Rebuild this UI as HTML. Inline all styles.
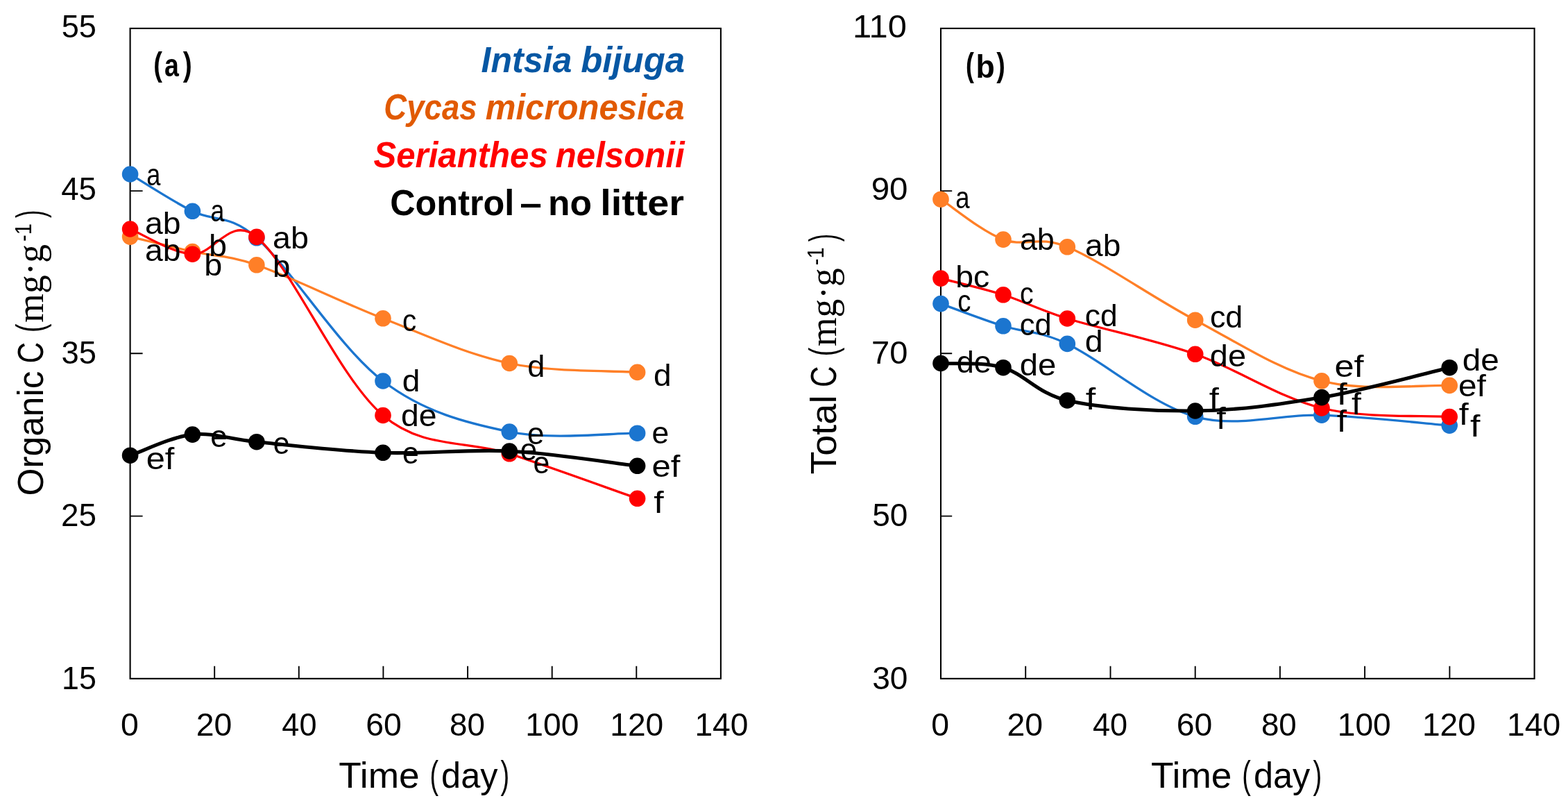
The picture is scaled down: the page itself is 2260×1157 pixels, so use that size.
<!DOCTYPE html>
<html lang="en"><head><meta charset="utf-8"><title>Organic C and total C over time</title>
<style>html,body{margin:0;padding:0;background:#fff}svg{display:block}</style></head>
<body>
<svg width="2260" height="1157" viewBox="0 0 2260 1157" font-family="Liberation Sans, sans-serif" fill="#000">
<rect width="2260" height="1157" fill="#fff"/>
<g id="panel-a">
<rect x="187.6" y="40.9" width="851.3" height="936.9" fill="none" stroke="#000" stroke-width="2.1"/>
<path d="M309.2 977.8V959.8M430.8 977.8V959.8M552.4 977.8V959.8M674.1 977.8V959.8M795.7 977.8V959.8M917.3 977.8V959.8M187.6 275.1H205.6M187.6 509.3H205.6M187.6 743.6H205.6" stroke="#000" stroke-width="1.9" fill="none"/>
<g class="series" stroke="#1B75CF" fill="#1B75CF">
<path d="M187.6 251.0C205.6 261.7 246.6 288.8 277.4 304.3C307.9 319.7 330.4 307.6 369.9 342.8C420.7 388.1 488.3 500.2 552.0 549.0C610.6 593.9 672.2 609.4 734.3 622.1C795.5 634.6 881.7 623.8 918.6 624.2" fill="none" stroke-width="3.3" stroke-linecap="round" stroke-linejoin="round"/>
<g stroke="none"><circle cx="187.6" cy="251.0" r="11.8"/><circle cx="277.4" cy="304.3" r="11.8"/><circle cx="369.9" cy="342.8" r="11.8"/><circle cx="552.0" cy="549.0" r="11.8"/><circle cx="734.3" cy="622.1" r="11.8"/><circle cx="918.6" cy="624.2" r="11.8"/></g>
</g>
<g class="series" stroke="#FF7F27" fill="#FF7F27">
<path d="M187.6 341.1C205.6 345.4 246.8 355.7 277.4 362.5C308.1 369.4 328.5 367.3 369.9 381.8C419.7 399.3 490.5 434.9 552.0 458.8C613.1 482.6 672.3 510.4 734.3 523.5C795.6 536.5 881.7 533.8 918.6 536.4" fill="none" stroke-width="3.3" stroke-linecap="round" stroke-linejoin="round"/>
<g stroke="none"><circle cx="187.6" cy="341.1" r="11.8"/><circle cx="277.4" cy="362.5" r="11.8"/><circle cx="369.9" cy="381.8" r="11.8"/><circle cx="552.0" cy="458.8" r="11.8"/><circle cx="734.3" cy="523.5" r="11.8"/><circle cx="918.6" cy="536.4" r="11.8"/></g>
</g>
<g class="series" stroke="#FF0000" fill="#FF0000">
<path d="M187.6 330.0C205.6 337.2 246.7 364.3 277.4 366.2C308.0 368.1 331.7 309.1 369.9 341.4C421.3 384.9 487.2 543.0 552.0 598.5C609.1 647.5 672.8 633.7 734.3 653.8C796.1 674.0 881.7 705.4 918.6 718.3" fill="none" stroke-width="3.3" stroke-linecap="round" stroke-linejoin="round"/>
<g stroke="none"><circle cx="187.6" cy="330.0" r="11.8"/><circle cx="277.4" cy="366.2" r="11.8"/><circle cx="369.9" cy="341.4" r="11.8"/><circle cx="552.0" cy="598.5" r="11.8"/><circle cx="734.3" cy="653.8" r="11.8"/><circle cx="918.6" cy="718.3" r="11.8"/></g>
</g>
<g class="series" stroke="#000" fill="#000">
<path d="M187.6 656.2C205.6 650.2 246.7 629.4 277.4 626.1C308.0 622.8 328.0 632.7 369.9 636.7C419.4 641.4 490.7 650.1 552.0 652.3C613.3 654.5 672.8 646.8 734.3 650.0C796.1 653.2 881.7 667.0 918.6 671.3" fill="none" stroke-width="5.1" stroke-linecap="round" stroke-linejoin="round"/>
<g stroke="none"><circle cx="187.6" cy="656.2" r="11.8"/><circle cx="277.4" cy="626.1" r="11.8"/><circle cx="369.9" cy="636.7" r="11.8"/><circle cx="552.0" cy="652.3" r="11.8"/><circle cx="734.3" cy="650.0" r="11.8"/><circle cx="918.6" cy="671.3" r="11.8"/></g>
</g>
</g>
<g id="panel-b">
<rect x="1356.0" y="40.9" width="855.6" height="936.9" fill="none" stroke="#000" stroke-width="2.1"/>
<path d="M1478.2 977.8V959.8M1600.5 977.8V959.8M1722.7 977.8V959.8M1844.9 977.8V959.8M1967.1 977.8V959.8M2089.4 977.8V959.8M1356.0 275.1H1372.2M1356.0 509.3H1372.2M1356.0 743.6H1372.2" stroke="#000" stroke-width="1.9" fill="none"/>
<g class="series" stroke="#1B75CF" fill="#1B75CF">
<path d="M1356.0 437.6C1374.0 444.0 1415.3 460.1 1446.0 469.8C1476.7 479.5 1497.0 475.9 1538.3 495.4C1588.7 519.2 1659.9 582.7 1722.7 600.3C1783.2 617.3 1843.5 596.1 1905.0 598.2C1966.7 600.4 2052.4 610.1 2089.2 613.1" fill="none" stroke-width="3.3" stroke-linecap="round" stroke-linejoin="round"/>
<g stroke="none"><circle cx="1356.0" cy="437.6" r="11.8"/><circle cx="1446.0" cy="469.8" r="11.8"/><circle cx="1538.3" cy="495.4" r="11.8"/><circle cx="1722.7" cy="600.3" r="11.8"/><circle cx="1905.0" cy="598.2" r="11.8"/><circle cx="2089.2" cy="613.1" r="11.8"/></g>
</g>
<g class="series" stroke="#FF7F27" fill="#FF7F27">
<path d="M1356.0 287.2C1374.0 298.8 1414.8 333.4 1446.0 345.1C1476.1 356.4 1497.2 338.6 1538.3 355.8C1588.8 377.0 1660.7 428.5 1722.7 461.2C1784.0 493.5 1842.7 532.8 1905.0 548.8C1965.9 564.5 2052.4 554.1 2089.2 555.4" fill="none" stroke-width="3.3" stroke-linecap="round" stroke-linejoin="round"/>
<g stroke="none"><circle cx="1356.0" cy="287.2" r="11.8"/><circle cx="1446.0" cy="345.1" r="11.8"/><circle cx="1538.3" cy="355.8" r="11.8"/><circle cx="1722.7" cy="461.2" r="11.8"/><circle cx="1905.0" cy="548.8" r="11.8"/><circle cx="2089.2" cy="555.4" r="11.8"/></g>
</g>
<g class="series" stroke="#FF0000" fill="#FF0000">
<path d="M1356.0 401.1C1374.0 405.8 1415.6 415.1 1446.0 424.8C1476.9 434.6 1496.1 445.9 1538.3 459.0C1588.2 474.4 1661.3 488.7 1722.7 510.3C1784.6 532.1 1842.8 572.7 1905.0 588.0C1966.1 603.1 2052.4 598.1 2089.2 600.6" fill="none" stroke-width="3.3" stroke-linecap="round" stroke-linejoin="round"/>
<g stroke="none"><circle cx="1356.0" cy="401.1" r="11.8"/><circle cx="1446.0" cy="424.8" r="11.8"/><circle cx="1538.3" cy="459.0" r="11.8"/><circle cx="1722.7" cy="510.3" r="11.8"/><circle cx="1905.0" cy="588.0" r="11.8"/><circle cx="2089.2" cy="600.6" r="11.8"/></g>
</g>
<g class="series" stroke="#000" fill="#000">
<path d="M1356.0 523.5C1374.0 524.7 1415.9 520.9 1446.0 529.7C1477.2 538.9 1495.5 567.4 1538.3 577.0C1587.8 588.1 1661.0 592.7 1722.7 592.0C1784.3 591.3 1843.6 583.0 1905.0 572.6C1966.9 562.1 2052.4 538.3 2089.2 529.7" fill="none" stroke-width="5.1" stroke-linecap="round" stroke-linejoin="round"/>
<g stroke="none"><circle cx="1356.0" cy="523.5" r="11.8"/><circle cx="1446.0" cy="529.7" r="11.8"/><circle cx="1538.3" cy="577.0" r="11.8"/><circle cx="1722.7" cy="592.0" r="11.8"/><circle cx="1905.0" cy="572.6" r="11.8"/><circle cx="2089.2" cy="529.7" r="11.8"/></g>
</g>
</g>
<g id="labels">
<text font-size="46.0"><tspan x="88.69" y="54.30" textLength="50.24" lengthAdjust="spacingAndGlyphs">55</tspan></text>
<text font-size="46.0"><tspan x="88.19" y="288.10" textLength="50.76" lengthAdjust="spacingAndGlyphs">45</tspan></text>
<text font-size="46.0"><tspan x="88.59" y="523.90" textLength="50.35" lengthAdjust="spacingAndGlyphs">35</tspan></text>
<text font-size="46.0"><tspan x="87.95" y="757.70" textLength="51.01" lengthAdjust="spacingAndGlyphs">25</tspan></text>
<text font-size="46.0"><tspan x="89.10" y="993.40" textLength="49.81" lengthAdjust="spacingAndGlyphs">15</tspan></text>
<text font-size="46.0"><tspan x="1229.05" y="54.30" textLength="77.76" lengthAdjust="spacingAndGlyphs">110</tspan></text>
<text font-size="46.0"><tspan x="1255.67" y="288.10" textLength="52.81" lengthAdjust="spacingAndGlyphs">90</tspan></text>
<text font-size="46.0"><tspan x="1256.09" y="523.90" textLength="52.38" lengthAdjust="spacingAndGlyphs">70</tspan></text>
<text font-size="46.0"><tspan x="1257.16" y="757.70" textLength="51.29" lengthAdjust="spacingAndGlyphs">50</tspan></text>
<text font-size="46.0"><tspan x="1257.16" y="993.40" textLength="51.29" lengthAdjust="spacingAndGlyphs">30</tspan></text>
<text font-size="46.0"><tspan x="174.05" y="1060.10" textLength="25.81" lengthAdjust="spacingAndGlyphs">0</tspan></text>
<text font-size="46.0"><tspan x="282.67" y="1060.10" textLength="51.63" lengthAdjust="spacingAndGlyphs">20</tspan></text>
<text font-size="46.0"><tspan x="406.35" y="1060.10" textLength="50.13" lengthAdjust="spacingAndGlyphs">40</tspan></text>
<text font-size="46.0"><tspan x="527.17" y="1060.10" textLength="51.63" lengthAdjust="spacingAndGlyphs">60</tspan></text>
<text font-size="46.0"><tspan x="648.02" y="1060.10" textLength="50.87" lengthAdjust="spacingAndGlyphs">80</tspan></text>
<text font-size="46.0"><tspan x="757.31" y="1060.10" textLength="77.04" lengthAdjust="spacingAndGlyphs">100</tspan></text>
<text font-size="46.0"><tspan x="879.21" y="1060.10" textLength="77.04" lengthAdjust="spacingAndGlyphs">120</tspan></text>
<text font-size="46.0"><tspan x="1001.41" y="1060.10" textLength="77.04" lengthAdjust="spacingAndGlyphs">140</tspan></text>
<text font-size="46.0"><tspan x="1342.35" y="1060.10" textLength="25.81" lengthAdjust="spacingAndGlyphs">0</tspan></text>
<text font-size="46.0"><tspan x="1451.57" y="1060.10" textLength="51.63" lengthAdjust="spacingAndGlyphs">20</tspan></text>
<text font-size="46.0"><tspan x="1574.95" y="1060.10" textLength="50.13" lengthAdjust="spacingAndGlyphs">40</tspan></text>
<text font-size="46.0"><tspan x="1695.77" y="1060.10" textLength="51.63" lengthAdjust="spacingAndGlyphs">60</tspan></text>
<text font-size="46.0"><tspan x="1817.92" y="1060.10" textLength="50.87" lengthAdjust="spacingAndGlyphs">80</tspan></text>
<text font-size="46.0"><tspan x="1927.71" y="1060.10" textLength="77.04" lengthAdjust="spacingAndGlyphs">100</tspan></text>
<text font-size="46.0"><tspan x="2049.91" y="1060.10" textLength="77.04" lengthAdjust="spacingAndGlyphs">120</tspan></text>
<text font-size="46.0"><tspan x="2172.11" y="1060.10" textLength="77.04" lengthAdjust="spacingAndGlyphs">140</tspan></text>
<text font-size="52.5"><tspan x="488.27" y="1135.30" textLength="116.39" lengthAdjust="spacingAndGlyphs">Time</tspan> <tspan x="619.53" y="1135.30" textLength="12.55" lengthAdjust="spacingAndGlyphs" font-size="56.2">(</tspan><tspan x="636.12" y="1135.30" textLength="81.38" lengthAdjust="spacingAndGlyphs">day</tspan><tspan x="721.60" y="1135.30" textLength="12.67" lengthAdjust="spacingAndGlyphs" font-size="56.2">)</tspan></text>
<text font-size="52.5"><tspan x="1659.07" y="1135.30" textLength="116.39" lengthAdjust="spacingAndGlyphs">Time</tspan> <tspan x="1790.33" y="1135.30" textLength="12.55" lengthAdjust="spacingAndGlyphs" font-size="56.2">(</tspan><tspan x="1806.92" y="1135.30" textLength="81.38" lengthAdjust="spacingAndGlyphs">day</tspan><tspan x="1892.40" y="1135.30" textLength="12.67" lengthAdjust="spacingAndGlyphs" font-size="56.2">)</tspan></text>
<text font-size="52.5" font-weight="bold" font-style="italic" fill="#0657A3"><tspan x="693.52" y="103.70" textLength="130.73" lengthAdjust="spacingAndGlyphs">Intsia</tspan> <tspan x="837.20" y="103.70" textLength="149.86" lengthAdjust="spacingAndGlyphs">bijuga</tspan></text>
<text font-size="52.5" font-weight="bold" font-style="italic" fill="#E15A02"><tspan x="553.26" y="172.00" textLength="134.37" lengthAdjust="spacingAndGlyphs">Cycas</tspan> <tspan x="699.73" y="172.00" textLength="286.79" lengthAdjust="spacingAndGlyphs">micronesica</tspan></text>
<text font-size="52.5" font-weight="bold" font-style="italic" fill="#FF0000"><tspan x="538.50" y="240.60" textLength="251.22" lengthAdjust="spacingAndGlyphs">Serianthes</tspan> <tspan x="800.83" y="240.60" textLength="185.73" lengthAdjust="spacingAndGlyphs">nelsonii</tspan></text>
<text font-size="52.5" font-weight="bold"><tspan x="562.23" y="309.60" textLength="179.05" lengthAdjust="spacingAndGlyphs">Control</tspan> <tspan x="749.31" y="309.60" textLength="31.60" lengthAdjust="spacingAndGlyphs">–</tspan> <tspan x="789.88" y="309.60" textLength="63.01" lengthAdjust="spacingAndGlyphs">no</tspan> <tspan x="865.21" y="309.60" textLength="120.88" lengthAdjust="spacingAndGlyphs">litter</tspan></text>
<text font-size="46.0" font-weight="bold"><tspan x="221.32" y="108.70" textLength="12.68" lengthAdjust="spacingAndGlyphs" font-size="47.4">(</tspan><tspan x="237.11" y="110.40" textLength="20.85" lengthAdjust="spacingAndGlyphs">a</tspan><tspan x="263.70" y="108.70" textLength="13.01" lengthAdjust="spacingAndGlyphs" font-size="47.4">)</tspan></text>
<text font-size="46.0" font-weight="bold"><tspan x="1392.03" y="110.30" textLength="11.89" lengthAdjust="spacingAndGlyphs" font-size="47.4">(</tspan><tspan x="1406.51" y="112.00" textLength="27.25" lengthAdjust="spacingAndGlyphs">b</tspan><tspan x="1436.20" y="110.30" textLength="12.56" lengthAdjust="spacingAndGlyphs" font-size="47.4">)</tspan></text>
<text font-size="43.8"><tspan x="211.37" y="266.50" textLength="20.10" lengthAdjust="spacingAndGlyphs">a</tspan></text>
<text font-size="43.8"><tspan x="303.58" y="319.40" textLength="19.89" lengthAdjust="spacingAndGlyphs">a</tspan></text>
<text font-size="43.8"><tspan x="208.95" y="337.00" textLength="51.52" lengthAdjust="spacingAndGlyphs">ab</tspan></text>
<text font-size="43.8"><tspan x="208.95" y="376.00" textLength="51.52" lengthAdjust="spacingAndGlyphs">ab</tspan></text>
<text font-size="43.8"><tspan x="301.08" y="369.00" textLength="26.02" lengthAdjust="spacingAndGlyphs">b</tspan></text>
<text font-size="43.8"><tspan x="294.28" y="397.20" textLength="26.02" lengthAdjust="spacingAndGlyphs">b</tspan></text>
<text font-size="43.8"><tspan x="393.04" y="358.30" textLength="51.85" lengthAdjust="spacingAndGlyphs">ab</tspan></text>
<text font-size="43.8"><tspan x="393.04" y="398.90" textLength="25.41" lengthAdjust="spacingAndGlyphs">b</tspan></text>
<text font-size="43.8"><tspan x="580.04" y="476.50" textLength="20.19" lengthAdjust="spacingAndGlyphs">c</tspan></text>
<text font-size="43.8"><tspan x="579.86" y="563.90" textLength="25.63" lengthAdjust="spacingAndGlyphs">d</tspan></text>
<text font-size="43.8"><tspan x="577.95" y="614.00" textLength="51.52" lengthAdjust="spacingAndGlyphs">de</tspan></text>
<text font-size="43.8"><tspan x="760.19" y="542.70" textLength="25.15" lengthAdjust="spacingAndGlyphs">d</tspan></text>
<text font-size="43.8"><tspan x="941.96" y="555.90" textLength="25.63" lengthAdjust="spacingAndGlyphs">d</tspan></text>
<text font-size="43.8"><tspan x="759.93" y="639.50" textLength="24.46" lengthAdjust="spacingAndGlyphs">e</tspan></text>
<text font-size="43.8"><tspan x="939.61" y="639.20" textLength="24.69" lengthAdjust="spacingAndGlyphs">e</tspan></text>
<text font-size="43.8"><tspan x="303.23" y="643.80" textLength="24.46" lengthAdjust="spacingAndGlyphs">e</tspan></text>
<text font-size="43.8"><tspan x="393.66" y="654.40" textLength="23.88" lengthAdjust="spacingAndGlyphs">e</tspan></text>
<text font-size="43.8"><tspan x="579.96" y="667.60" textLength="23.77" lengthAdjust="spacingAndGlyphs">e</tspan></text>
<text font-size="43.8"><tspan x="749.83" y="662.60" textLength="24.34" lengthAdjust="spacingAndGlyphs">e</tspan></text>
<text font-size="43.8"><tspan x="768.56" y="682.00" textLength="23.77" lengthAdjust="spacingAndGlyphs">e</tspan></text>
<text font-size="43.8"><tspan x="210.68" y="675.70" textLength="40.66" lengthAdjust="spacingAndGlyphs">ef</tspan></text>
<text font-size="43.8"><tspan x="939.47" y="686.80" textLength="40.86" lengthAdjust="spacingAndGlyphs">ef</tspan></text>
<text font-size="43.8"><tspan x="942.30" y="738.50" textLength="14.42" lengthAdjust="spacingAndGlyphs">f</tspan></text>
<text font-size="43.8"><tspan x="1377.16" y="300.00" textLength="20.31" lengthAdjust="spacingAndGlyphs">a</tspan></text>
<text font-size="43.8"><tspan x="1469.90" y="360.40" textLength="49.92" lengthAdjust="spacingAndGlyphs">ab</tspan></text>
<text font-size="43.8"><tspan x="1564.06" y="369.10" textLength="51.20" lengthAdjust="spacingAndGlyphs">ab</tspan></text>
<text font-size="43.8"><tspan x="1377.20" y="414.10" textLength="49.03" lengthAdjust="spacingAndGlyphs">bc</tspan></text>
<text font-size="43.8"><tspan x="1469.97" y="437.60" textLength="19.64" lengthAdjust="spacingAndGlyphs">c</tspan></text>
<text font-size="43.8"><tspan x="1563.71" y="470.40" textLength="46.88" lengthAdjust="spacingAndGlyphs">cd</tspan></text>
<text font-size="43.8"><tspan x="1380.20" y="448.70" textLength="19.20" lengthAdjust="spacingAndGlyphs">c</tspan></text>
<text font-size="43.8"><tspan x="1469.84" y="482.70" textLength="45.90" lengthAdjust="spacingAndGlyphs">cd</tspan></text>
<text font-size="43.8"><tspan x="1563.65" y="506.50" textLength="25.86" lengthAdjust="spacingAndGlyphs">d</tspan></text>
<text font-size="43.8"><tspan x="1743.90" y="472.20" textLength="47.32" lengthAdjust="spacingAndGlyphs">cd</tspan></text>
<text font-size="43.8"><tspan x="1743.83" y="527.60" textLength="52.17" lengthAdjust="spacingAndGlyphs">de</tspan></text>
<text font-size="43.8"><tspan x="1378.69" y="536.80" textLength="50.24" lengthAdjust="spacingAndGlyphs">de</tspan></text>
<text font-size="43.8"><tspan x="1469.72" y="541.20" textLength="52.59" lengthAdjust="spacingAndGlyphs">de</tspan></text>
<text font-size="43.8"><tspan x="1564.70" y="589.60" textLength="14.42" lengthAdjust="spacingAndGlyphs">f</tspan></text>
<text font-size="43.8"><tspan x="1742.70" y="589.60" textLength="14.03" lengthAdjust="spacingAndGlyphs">f</tspan></text>
<text font-size="43.8"><tspan x="1753.30" y="617.90" textLength="13.53" lengthAdjust="spacingAndGlyphs">f</tspan></text>
<text font-size="43.8"><tspan x="1923.42" y="542.60" textLength="42.21" lengthAdjust="spacingAndGlyphs">ef</tspan></text>
<text font-size="43.8"><tspan x="1926.80" y="583.40" textLength="14.92" lengthAdjust="spacingAndGlyphs">f</tspan></text>
<text font-size="43.8"><tspan x="1948.10" y="596.70" textLength="13.93" lengthAdjust="spacingAndGlyphs">f</tspan></text>
<text font-size="43.8"><tspan x="1926.80" y="622.30" textLength="14.32" lengthAdjust="spacingAndGlyphs">f</tspan></text>
<text font-size="43.8"><tspan x="2107.81" y="534.10" textLength="53.02" lengthAdjust="spacingAndGlyphs">de</tspan></text>
<text font-size="43.8"><tspan x="2102.11" y="570.60" textLength="39.73" lengthAdjust="spacingAndGlyphs">ef</tspan></text>
<text font-size="43.8"><tspan x="2102.70" y="611.70" textLength="13.93" lengthAdjust="spacingAndGlyphs">f</tspan></text>
<text font-size="43.8"><tspan x="2119.00" y="628.90" textLength="14.42" lengthAdjust="spacingAndGlyphs">f</tspan></text>
<text font-size="52.5" transform="rotate(-90)"><tspan x="-714.61" y="62.10" textLength="180.22" lengthAdjust="spacingAndGlyphs">Organic</tspan> <tspan x="-523.59" y="62.10" textLength="30.66" lengthAdjust="spacingAndGlyphs">C</tspan> <tspan x="-478.97" y="62.10" textLength="12.55" lengthAdjust="spacingAndGlyphs" font-size="56.2">(</tspan><tspan x="-464.63" y="62.10" textLength="112.67" lengthAdjust="spacingAndGlyphs" font-size="55.0" font-family="Liberation Serif, serif">mg·g</tspan><tspan x="-348.01" y="44.70" textLength="25.89" lengthAdjust="spacingAndGlyphs" font-size="33.0">-1</tspan><tspan x="-313.90" y="62.10" textLength="11.37" lengthAdjust="spacingAndGlyphs" font-size="56.2">)</tspan></text>
<text font-size="52.5" transform="rotate(-90)"><tspan x="-683.64" y="1204.70" textLength="114.00" lengthAdjust="spacingAndGlyphs">Total</tspan> <tspan x="-557.89" y="1204.70" textLength="30.66" lengthAdjust="spacingAndGlyphs">C</tspan> <tspan x="-513.27" y="1204.70" textLength="12.55" lengthAdjust="spacingAndGlyphs" font-size="56.2">(</tspan><tspan x="-498.93" y="1204.70" textLength="112.67" lengthAdjust="spacingAndGlyphs" font-size="55.0" font-family="Liberation Serif, serif">mg·g</tspan><tspan x="-382.31" y="1187.30" textLength="25.89" lengthAdjust="spacingAndGlyphs" font-size="33.0">-1</tspan><tspan x="-348.20" y="1204.70" textLength="11.37" lengthAdjust="spacingAndGlyphs" font-size="56.2">)</tspan></text>
</g>
</svg>
</body></html>
